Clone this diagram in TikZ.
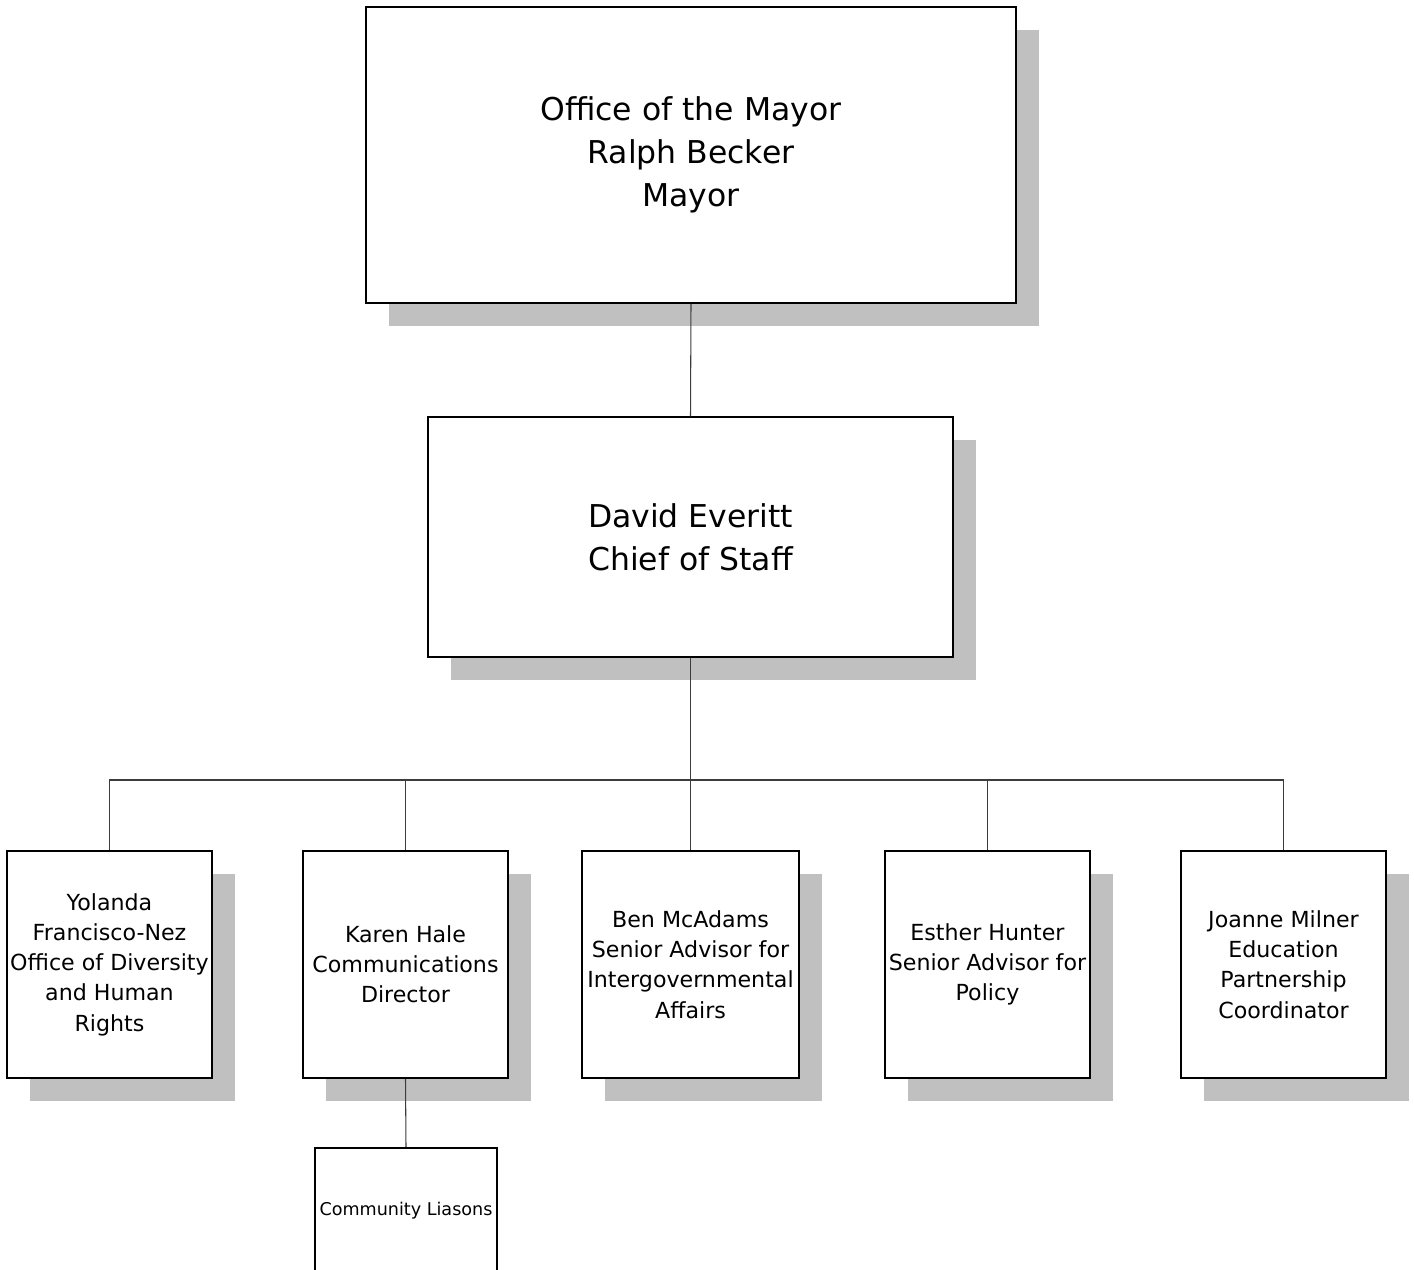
\documentclass[tikz,border=0pt]{standalone}
\usepackage{fontspec}
\setmainfont{DejaVu Sans}
\usetikzlibrary{shadows}
\definecolor{shadowgray}{RGB}{192,192,192}
\definecolor{linkgray}{RGB}{60,60,60}
\tikzset{
  chartbox/.style={draw,line width=0.85pt,fill=white,align=center,inner sep=1pt,
    drop shadow={shadow xshift=0.45cm,shadow yshift=-0.46cm,fill=shadowgray,opacity=1}},
  bigbox/.style={chartbox,font=\fontsize{17.9}{24.4}\selectfont},
  staffbox/.style={chartbox,minimum width=4.1cm,minimum height=4.54cm,font=\fontsize{12.6}{17.2}\selectfont},
  link/.style={draw=linkgray,line width=0.6pt}
}
\begin{document}
\begin{tikzpicture}

\useasboundingbox (0,0) rectangle (28.28,-25.4);

\node [bigbox,minimum width=13cm,minimum height=5.92cm] (mayor) at (13.82,-3.10) {Office of the Mayor\\Ralph Becker\\Mayor};

\node [bigbox,minimum width=10.5cm,minimum height=4.8cm] (chief) at (13.81,-10.74) {David Everitt\\Chief of Staff};

\node [staffbox] (yolanda) at (2.19,-19.29) {Yolanda\\Francisco-Nez\\Office of Diversity\\and Human\\Rights};

\node [staffbox] (karen) at (8.11,-19.29) {Karen Hale\\Communications\\Director};

\node [staffbox,minimum width=4.34cm] (ben) at (13.81,-19.29) {Ben McAdams\\Senior Advisor for\\Intergovernmental\\Affairs};

\node [staffbox] (esther) at (19.75,-19.29) {Esther Hunter\\Senior Advisor for\\Policy};

\node [staffbox] (joanne) at (25.67,-19.29) {Joanne Milner\\Education\\Partnership\\Coordinator};

\node [draw,line width=0.85pt,inner sep=1pt,anchor=north,minimum width=3.64cm,minimum height=2.5cm,font=\fontsize{10}{12}\selectfont] (liasons) at (8.12,-22.94) {Community Liasons};

\coordinate (bus) at (13.81,-15.6);

\draw [link] (mayor.south) -- (chief.north);

\draw [link] (chief.south) -- (bus);

\foreach \n in {yolanda,karen,ben,esther,joanne}
  \draw [link] (bus) -| (\n.north);

\draw [link] (karen.south) -- (liasons.north);

\end{tikzpicture}
\end{document}
